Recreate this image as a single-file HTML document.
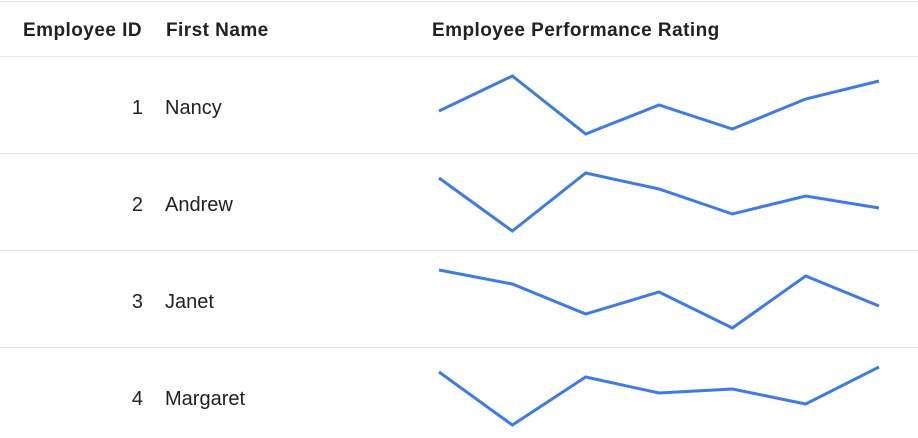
<!DOCTYPE html>
<html><head><meta charset="utf-8"><style>
html,body{margin:0;padding:0;background:#fff;width:918px;height:438px;overflow:hidden;font-family:"Liberation Sans",sans-serif;color:#212121}
.t{position:absolute;font-size:20px;line-height:24px;white-space:nowrap}
.h{font-weight:bold;font-size:19px;letter-spacing:0.45px}
.line{position:absolute;left:0;width:918px;height:1px;background:#e6e6e6}
</style></head><body>
<div class="line" style="top:1px"></div>
<div class="t h" style="left:23px;top:19px">Employee ID</div>
<div class="t h" style="left:166px;top:19px">First Name</div>
<div class="t h" style="left:432px;top:19px">Employee Performance Rating</div>
<div class="line" style="top:56px"></div>
<div id="rows"></div>
<svg id="spark" width="918" height="438" style="position:absolute;left:0;top:0"></svg>
<script>
const ids=[1,2,3,4];
const names=["Nancy","Andrew","Janet","Margaret"];
const r1=[23,58,0,29,5,35,53];
const r2=[53,0,58,42,17,35,23];
const r3=[58,44,14,36,0,52,22];
const r4=[53,0,48,32,36,21,58];
const series=[r1,r2,r3,r4];
const rowsEl=document.getElementById('rows');
const svg=document.getElementById('spark');
const ns='http://www.w3.org/2000/svg';
const rowH=97, rowTop0=57, x0=439, x1=879, pad=19, band=58;
ids.forEach((id,i)=>{
  const top=rowTop0+i*rowH;
  const a=document.createElement('div');a.className='t';a.textContent=id;
  a.style.left='0';a.style.width='143px';a.style.textAlign='right';a.style.top=(top+39)+'px';
  
  
  rowsEl.appendChild(a);
  const b=document.createElement('div');b.className='t';b.textContent=names[i];
  b.style.left='165px';b.style.top=(top+39)+'px';
  
  
  rowsEl.appendChild(b);
  if(i<ids.length-1){const l=document.createElement('div');l.className='line';l.style.top=(top+rowH-1)+'px';
    
    
    rowsEl.appendChild(l);}
  const d=series[i];const mn=Math.min(...d),mx=Math.max(...d);
  const xs=k=>x0+k*(x1-x0)/(d.length-1);
  const ys=v=>top+pad+band-(v-mn)/(mx-mn||1)*band;
  const p=document.createElementNS(ns,'polyline');
  p.setAttribute('points',d.map((v,k)=>xs(k)+','+ys(v)).join(' '));
  p.setAttribute('fill','none');p.setAttribute('stroke','#3f7ae8');p.setAttribute('stroke-width','3');
  
  
  svg.appendChild(p);
});
</script>
</body></html>
